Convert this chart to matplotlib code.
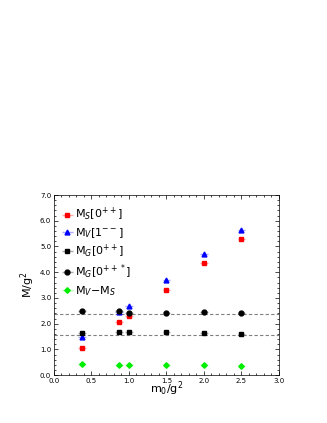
import matplotlib
matplotlib.use("Agg")
import matplotlib.pyplot as plt
from matplotlib.ticker import MultipleLocator

x = [0.375, 0.866, 1.0, 1.5, 2.0, 2.5]
m_s = [1.05, 2.05, 2.30, 3.30, 4.35, 5.30]
m_v = [1.50, 2.47, 2.70, 3.70, 4.70, 5.65]
m_g_sq = [1.62, 1.68, 1.67, 1.66, 1.63, 1.60]
m_g_circ = [2.48, 2.48, 2.43, 2.42, 2.44, 2.40]
m_diff = [0.45, 0.38, 0.40, 0.40, 0.38, 0.35]
x_err = 0.05
lines_y = [2.38, 1.58]

fig = plt.figure(figsize=(3.27, 4.23), dpi=100)
ax = fig.add_axes([0.165, 0.113, 0.688, 0.426])

series = [
    (m_s, "s", "red", "#ffaaaa", r"M$_S$[0$^{++}$]"),
    (m_v, "^", "blue", "#aaaaff", r"M$_V$[1$^{--}$]"),
    (m_g_sq, "s", "black", "#aaaaaa", r"M$_G$[0$^{++}$]"),
    (m_g_circ, "o", "black", "#aaaaaa", r"M$_G$[0$^{++*}$]"),
    (m_diff, "D", "#00ee00", "#aaffaa", r"M$_V$$-$M$_S$"),
]
for vals, mk, col, ecol, lab in series:
    ax.errorbar(x, vals, xerr=x_err, fmt=mk, color=col, ecolor=ecol,
                markersize=3.5 if mk != "D" else 2.8, elinewidth=1, capsize=0,
                linestyle="none", label=lab)

for yv in lines_y:
    ax.axhline(yv, color="gray", linestyle="--", linewidth=0.8, dashes=(3, 2))

ax.set_xlim(0, 3.0)
ax.set_ylim(0, 7.0)
ax.xaxis.set_major_locator(MultipleLocator(0.5))
ax.xaxis.set_minor_locator(MultipleLocator(0.1))
ax.yaxis.set_major_locator(MultipleLocator(1.0))
ax.yaxis.set_minor_locator(MultipleLocator(0.2))
ax.xaxis.set_major_formatter(plt.FormatStrFormatter("%.1f"))
ax.yaxis.set_major_formatter(plt.FormatStrFormatter("%.1f"))
ax.tick_params(which="both", direction="in", top=True, right=True, labelsize=5, pad=2)
ax.tick_params(which="major", length=3, width=0.5)
ax.tick_params(which="minor", length=1.5, width=0.5)
for sp in ax.spines.values():
    sp.set_linewidth(0.5)

ax.set_xlabel(r"m$_0$/g$^2$", fontsize=8, labelpad=-3)
ax.set_ylabel(r"M/g$^2$", fontsize=8, labelpad=2)

ax.legend(loc="upper left", frameon=False, fontsize=8, handletextpad=0.2,
          labelspacing=0.25, borderaxespad=0.3, handlelength=1.0,
          bbox_to_anchor=(0.0, 0.98))

fig.savefig("out.png", dpi=100)
